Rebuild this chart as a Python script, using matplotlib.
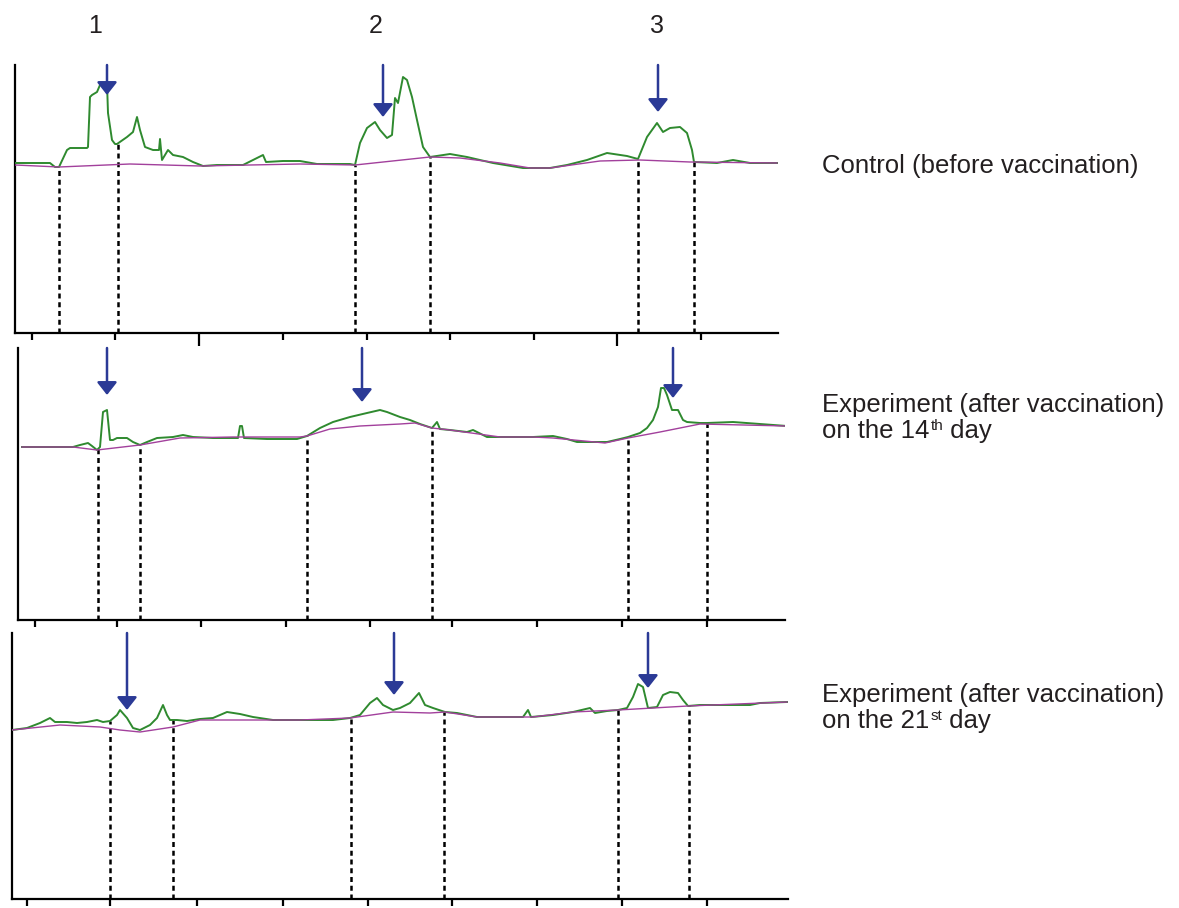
import numpy as np
import matplotlib
matplotlib.use("Agg")
import matplotlib.pyplot as plt

plt.rcParams['font.family'] = ['Liberation Sans', 'DejaVu Sans']

# ---------------- data (scan position, density) ----------------
# Panel 1: Control (before vaccination)
p1_x = [15, 50, 55, 59, 67, 70, 87, 88, 90, 92, 97, 100, 106, 107, 108, 112, 115, 117,
        127, 133, 137, 140, 145, 153, 159, 160, 162, 168, 173, 183, 193, 203, 217, 243,
        253, 263, 266, 283, 300, 317, 350, 355, 360, 367, 375, 380, 387, 392, 395, 398,
        403, 407, 412, 417, 423, 430, 450, 467, 493, 523, 550, 567, 587, 607, 627, 638,
        647, 657, 663, 670, 680, 687, 692, 694, 717, 733, 750, 777]
p1_signal = [170, 170, 166, 166, 183, 185, 185, 186, 236, 238, 241, 248, 250, 250, 220, 193, 189, 189,
             196, 201, 216, 203, 186, 183, 183, 194, 173, 183, 178, 176, 171, 167, 168, 168,
             173, 178, 171, 172, 172, 169, 169, 168, 190, 205, 211, 203, 195, 198, 235, 230,
             256, 253, 236, 213, 186, 176, 179, 176, 170, 165, 165, 168, 173, 180, 177, 174,
             196, 210, 201, 205, 206, 200, 183, 171, 170, 173, 170, 170]
p1_base_x = [15, 59, 130, 200, 300, 355, 430, 460, 500, 530, 550, 600, 640, 690, 777]
p1_base = [168, 166, 169, 167, 169, 168, 176, 175, 170, 165, 165, 172, 173, 171, 170]
p1_bounds = [59, 118, 355, 430, 638, 694]
p1_arrow_x = [107, 383, 658]
p1_arrow_tip = [238, 216, 221]
p1_ticks_long = [199, 617]
p1_ticks_short = [32, 115, 283, 367, 450, 534, 701]

# Panel 2: Experiment, 14th day
p2_x = [22, 73, 80, 88, 92, 97, 100, 103, 107, 108, 110, 113, 117, 127, 133, 140, 147, 157,
        173, 183, 193, 213, 238, 240, 242, 244, 267, 297, 307, 320, 333, 350, 367, 380,
        387, 400, 410, 420, 432, 437, 440, 450, 467, 473, 487, 500, 533, 553, 567, 577,
        607, 620, 628, 640, 647, 653, 658, 661, 664, 667, 672, 678, 683, 687, 700, 707,
        733, 760, 787]
p2_signal = [173, 173, 175, 177, 174, 170, 173, 208, 210, 200, 180, 180, 182, 182, 178, 175, 178, 182,
             183, 185, 183, 182, 182, 194, 194, 182, 181, 181, 184, 192, 198, 203, 207, 210,
             208, 203, 200, 196, 192, 198, 191, 190, 188, 190, 183, 183, 183, 184, 181, 178,
             178, 181, 183, 187, 192, 200, 213, 232, 232, 225, 210, 210, 200, 198, 197, 197,
             198, 196, 194]
p2_base_x = [22, 73, 97, 140, 180, 233, 300, 307, 330, 360, 400, 415, 432, 450, 500, 533,
             553, 605, 628, 660, 700, 787]
p2_base = [173, 173, 170, 175, 182, 183, 183, 184, 191, 194, 196, 197, 192, 190, 183, 183,
           182, 177, 182, 188, 196, 194]
p2_bounds = [98, 140, 307, 432, 628, 707]
p2_arrow_x = [107, 362, 673]
p2_arrow_tip = [225, 218, 222]
p2_ticks = [35, 117, 201, 286, 370, 452, 537, 622, 707]

# Panel 3: Experiment, 21st day
p3_x = [12, 27, 40, 50, 55, 67, 77, 87, 97, 103, 110, 117, 120, 127, 133, 140, 150, 157,
        163, 167, 170, 177, 187, 200, 213, 227, 240, 253, 273, 333, 350, 360, 370, 377,
        383, 393, 400, 410, 419, 425, 433, 445, 457, 477, 523, 528, 531, 553, 573, 590,
        595, 607, 618, 627, 633, 638, 643, 648, 657, 663, 670, 678, 683, 688, 700, 750,
        760, 787]
p3_signal = [169, 171, 176, 181, 177, 177, 176, 177, 179, 177, 178, 184, 189, 181, 171, 169, 174, 181,
             194, 184, 179, 179, 178, 180, 181, 187, 185, 182, 179, 179, 181, 184, 196, 201,
             194, 189, 191, 196, 206, 194, 191, 187, 186, 182, 182, 189, 182, 184, 187, 191,
             186, 188, 189, 191, 202, 215, 212, 191, 192, 204, 207, 206, 199, 193, 194, 194,
             196, 197]
p3_base_x = [12, 60, 100, 120, 140, 173, 200, 300, 350, 393, 430, 445, 477, 533, 573, 618,
             688, 787]
p3_base = [169, 174, 172, 169, 167, 172, 179, 179, 181, 187, 186, 187, 182, 182, 187, 189,
           193, 197]
p3_bounds = [110, 173, 351, 444, 618, 689]
p3_arrow_x = [127, 394, 648]
p3_arrow_tip = [189, 204, 211]
p3_ticks = [27, 110, 197, 283, 368, 452, 537, 622, 707]

band_labels = ["1", "2", "3"]
# each title line: (main text, superscript, tail)
panel_titles = [
    [("Control (before vaccination)", "", "")],
    [("Experiment (after vaccination)", "", ""), ("on the 14", "th", " day")],
    [("Experiment (after vaccination)", "", ""), ("on the 21", "st", " day")],
]

# ---------------- styling ----------------
GREEN = '#2f8a2f'
PURPLE = '#a2409c'
BLUE = '#2b3a96'
TEXT = '#231f20'
W, H = 1179, 908
fig = plt.figure(figsize=(W / 100, H / 100), dpi=100)
fig.patch.set_facecolor('white')


def make_ax(left, right, top, bottom):
    return fig.add_axes([left / W, (H - bottom) / H, (right - left) / W, (bottom - top) / H])


panels = [
    dict(box=(15, 778, 65, 333), x=p1_x, s=p1_signal, bx=p1_base_x, b=p1_base,
         bounds=p1_bounds, ax_=p1_arrow_x, at=p1_arrow_tip, major=p1_ticks_long,
         minor=p1_ticks_short),
    dict(box=(18, 785, 348, 620), x=p2_x, s=p2_signal, bx=p2_base_x, b=p2_base,
         bounds=p2_bounds, ax_=p2_arrow_x, at=p2_arrow_tip, major=[], minor=p2_ticks),
    dict(box=(12, 788, 633, 899), x=p3_x, s=p3_signal, bx=p3_base_x, b=p3_base,
         bounds=p3_bounds, ax_=p3_arrow_x, at=p3_arrow_tip, major=[], minor=p3_ticks),
]

for p in panels:
    l, r, t, btm = p['box']
    ax = make_ax(l, r, t, btm)
    top = btm - t
    ax.set_xlim(l, r)
    ax.set_ylim(0, top)
    ax.set_facecolor('none')
    for side in ('top', 'right'):
        ax.spines[side].set_visible(False)
    for side in ('left', 'bottom'):
        ax.spines[side].set_linewidth(1.6)
        ax.spines[side].set_color('black')
    ax.set_yticks([])
    ax.set_xticks(p['major'])
    ax.set_xticks(p['minor'], minor=True)
    ax.tick_params(axis='x', which='major', direction='out', length=9, width=1.6,
                   labelbottom=False)
    ax.tick_params(axis='x', which='minor', direction='out', length=5, width=1.6,
                   labelbottom=False)

    ax.plot(p['x'], p['s'], color=GREEN, lw=1.4, zorder=3)
    ax.plot(p['bx'], p['b'], color=PURPLE, lw=1.0, zorder=4)

    tops = np.interp(p['bounds'], p['x'], p['s'])
    ax.vlines(p['bounds'], 0, tops, colors='black', linestyles=(0, (2, 1.5)), lw=1.8, zorder=2)

    for xa, tip in zip(p['ax_'], p['at']):
        ax.annotate('', xy=(xa, tip), xytext=(xa, top),
                    arrowprops=dict(arrowstyle='-|>,head_length=0.7,head_width=0.55',
                                    color=BLUE, lw=1.8, mutation_scale=11,
                                    shrinkA=0, shrinkB=0),
                    annotation_clip=False, zorder=5)

# band numbers
for lab, xp in zip(band_labels, [95, 376, 657]):
    fig.text(xp / W, 1 - 33 / H, lab, fontsize=18, ha='center', va='baseline', color=TEXT)

# panel titles (superscripts drawn as separate small texts)
renderer = fig.canvas.get_renderer()
title_baselines = [[173], [412, 438], [702, 728]]
for lines, bls in zip(panel_titles, title_baselines):
    for (main, sup, tail), yb in zip(lines, bls):
        t1 = fig.text(822 / W, 1 - yb / H, main, fontsize=18.5, ha='left', va='baseline',
                      color=TEXT)
        if sup:
            x1 = t1.get_window_extent(renderer).x1
            t2 = fig.text((x1 + 1) / W, 1 - (yb - 8) / H, sup, fontsize=11, ha='left',
                          va='baseline', color=TEXT)
            x2 = t2.get_window_extent(renderer).x1
            fig.text(x2 / W, 1 - yb / H, tail, fontsize=18.5, ha='left', va='baseline',
                     color=TEXT)

fig.savefig('out.png', dpi=100)
